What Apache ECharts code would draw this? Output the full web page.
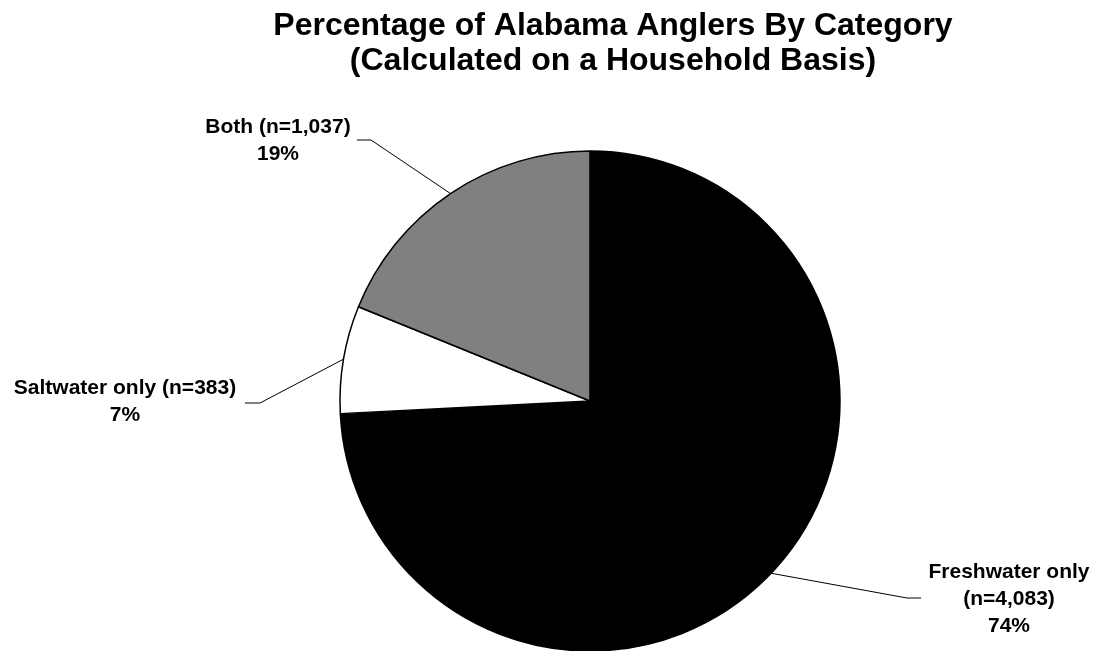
<!DOCTYPE html>
<html>
<head>
<meta charset="utf-8">
<title>Percentage of Alabama Anglers By Category</title>
<script src="https://cdn.jsdelivr.net/npm/echarts@6/dist/echarts.min.js"></script>
<style>
  html, body { margin: 0; padding: 0; background: #ffffff; }
  #chart { width: 1097px; height: 651px; }
</style>
</head>
<body>
<div id="chart"></div>
<script>
// Angler households by fishing category
const categories = ['Freshwater only', 'Saltwater only', 'Both'];
const households = [4083, 383, 1037];

// Slice fills, in category order
const sliceColors = ['#000000', '#ffffff', '#808080'];

// Label anchors (text centre) and leader-line knees/ends, in category order
const labelSpots = [
  { x: 1009, y: 599, knee: [907, 598], end: [921, 598] },
  { x: 125,  y: 402, knee: [260, 403], end: [245, 403] },
  { x: 278,  y: 141, knee: [371, 140], end: [357, 140] }
];

const fmt = n => n.toLocaleString('en-US');

const pieData = categories.map((name, i) => ({
  name: name,
  value: households[i],
  itemStyle: { color: sliceColors[i] }
}));

const chart = echarts.init(document.getElementById('chart'), null, { renderer: 'canvas' });

chart.setOption({
  backgroundColor: '#ffffff',
  animation: false,
  title: {
    text: 'Percentage of Alabama Anglers By Category\n(Calculated on a Household Basis)',
    left: 608,
    top: 4,
    textAlign: 'center',
    textStyle: {
      fontFamily: '"Liberation Sans", Arial, sans-serif',
      fontWeight: 'bold',
      fontSize: 32,
      lineHeight: 35,
      color: '#000000'
    }
  },
  series: [{
    type: 'pie',
    center: [590, 401],
    radius: 250,
    startAngle: 90,
    clockwise: true,
    percentPrecision: 0,
    avoidLabelOverlap: false,
    emphasis: { disabled: true },
    itemStyle: { borderColor: '#000000', borderWidth: 1.5 },
    label: {
      show: true,
      position: 'outside',
      fontFamily: '"Liberation Sans", Arial, sans-serif',
      fontWeight: 'bold',
      fontSize: 21,
      lineHeight: 27,
      color: '#000000',
      align: 'center',
      formatter: p => {
        const count = '(n=' + fmt(p.value) + ')';
        return p.dataIndex === 0
          ? p.name + '\n' + count + '\n' + p.percent + '%'
          : p.name + ' ' + count + '\n' + p.percent + '%';
      }
    },
    labelLine: {
      show: true,
      length: 20,
      length2: 10,
      smooth: false,
      lineStyle: { color: '#000000', width: 1 }
    },
    labelLayout: params => {
      const spot = labelSpots[params.dataIndex];
      const start = params.labelLinePoints ? params.labelLinePoints[0] : spot.knee;
      return {
        x: spot.x,
        y: spot.y,
        align: 'center',
        verticalAlign: 'middle',
        labelLinePoints: [start, spot.knee, spot.end]
      };
    },
    data: pieData
  }]
});
</script>
</body>
</html>
